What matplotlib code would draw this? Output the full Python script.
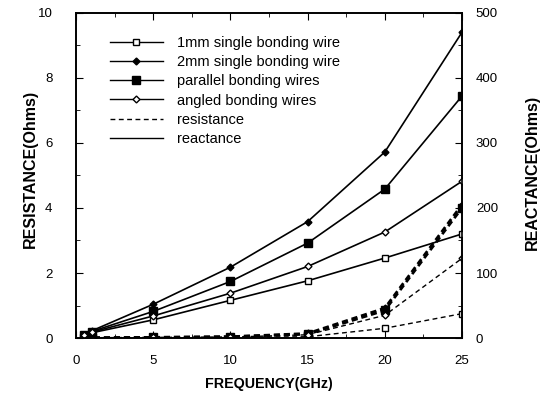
import matplotlib
matplotlib.use("Agg")
import matplotlib.pyplot as plt
from matplotlib.lines import Line2D
from matplotlib.ticker import MultipleLocator

plt.rcParams['font.family'] = ['Liberation Sans', 'DejaVu Sans']

freq = [0.5, 1, 5, 10, 15, 20, 25]

# Reactance (Ohms, right axis)
x_1mm = [3, 8, 28, 58, 88, 123, 160]
x_2mm = [5, 11, 52, 109, 179, 286, 470]
x_par = [4, 10, 41, 87, 146, 229, 372]
x_ang = [4, 9, 34, 69, 110, 163, 241]

# Resistance (Ohms, left axis)
r_1mm = [0.005, 0.01, 0.01, 0.02, 0.04, 0.30, 0.75]
r_2mm = [0.005, 0.01, 0.02, 0.04, 0.14, 0.92, 4.1]
r_par = [0.005, 0.01, 0.02, 0.04, 0.12, 0.85, 4.0]
r_ang = [0.005, 0.01, 0.02, 0.03, 0.10, 0.70, 2.45]

labels = ['1mm single bonding wire', '2mm single bonding wire',
          'parallel bonding wires', 'angled bonding wires',
          'resistance', 'reactance']

fig = plt.figure(figsize=(5.48, 4.01), dpi=100)
ax = fig.add_axes([0.139, 0.157, 0.704, 0.811])
ax2 = ax.twinx()

k = 'black'
styles = [
    dict(marker='s', ms=4.5, mfc='white', mec=k, mew=1.0),
    dict(marker='D', ms=3.5, mfc=k, mec=k, mew=1.0),
    dict(marker='s', ms=6, mfc=k, mec=k, mew=1.0),
    dict(marker='D', ms=3.5, mfc='white', mec=k, mew=1.0),
]

react = [x_1mm, x_2mm, x_par, x_ang]
resist = [r_1mm, r_2mm, r_par, r_ang]
dash_lw = [1.0, 2.0, 2.0, 1.0]

for d, st in zip(react, styles):
    ax2.plot(freq, d, color=k, lw=1.2, ls='-', **st)
for d, st, lw in zip(resist, styles, dash_lw):
    ax.plot(freq, d, color=k, lw=lw, ls=(0, (3.5, 2.5)) if lw < 1.5 else (0, (2.2, 1.4)), **st)

ax.set_xlim(0, 25)
ax.set_ylim(0, 10)
ax2.set_ylim(0, 500)

ax.xaxis.set_major_locator(MultipleLocator(5))
ax.xaxis.set_minor_locator(MultipleLocator(2.5))
ax.yaxis.set_major_locator(MultipleLocator(2))
ax.yaxis.set_minor_locator(MultipleLocator(1))
ax2.yaxis.set_major_locator(MultipleLocator(100))
ax2.yaxis.set_minor_locator(MultipleLocator(50))

ax.tick_params(axis='x', which='both', direction='in', top=True, labelsize=9.5, pad=12)
ax.tick_params(axis='y', which='both', direction='in', labelsize=9.5, pad=17)
ax.tick_params(which='major', length=5)
ax.tick_params(which='minor', length=3)
ax2.tick_params(axis='y', which='both', direction='in', labelsize=9.5, pad=10)
ax2.tick_params(which='major', length=5)
ax2.tick_params(which='minor', length=3)

for a in (ax, ax2):
    for s in a.spines.values():
        s.set_linewidth(1.2)

ax.set_xlabel('FREQUENCY(GHz)', fontsize=10.3, fontweight='bold')
ax.xaxis.set_label_coords(0.5, -0.12)
ax.set_ylabel('RESISTANCE(Ohms)', fontsize=11.5, fontweight='bold')
ax.yaxis.set_label_coords(-0.10, 0.52)
ax2.set_ylabel('REACTANCE(Ohms)', fontsize=11.5, fontweight='bold')
ax2.yaxis.set_label_coords(1.164, 0.508)

handles = []
for st in styles:
    handles.append(Line2D([], [], color=k, lw=1.0, ls='-', **st))
handles.append(Line2D([], [], color=k, lw=1.0, ls=(0, (3.5, 2.5))))
handles.append(Line2D([], [], color=k, lw=1.0, ls='-'))

ax.legend(handles, labels, loc='upper left', bbox_to_anchor=(0.088, 0.928),
          frameon=False, fontsize=10.5, numpoints=1, handlelength=3.6,
          handletextpad=1.0, labelspacing=0.35, borderaxespad=0, borderpad=0)

fig.savefig('out.png', dpi=100)
